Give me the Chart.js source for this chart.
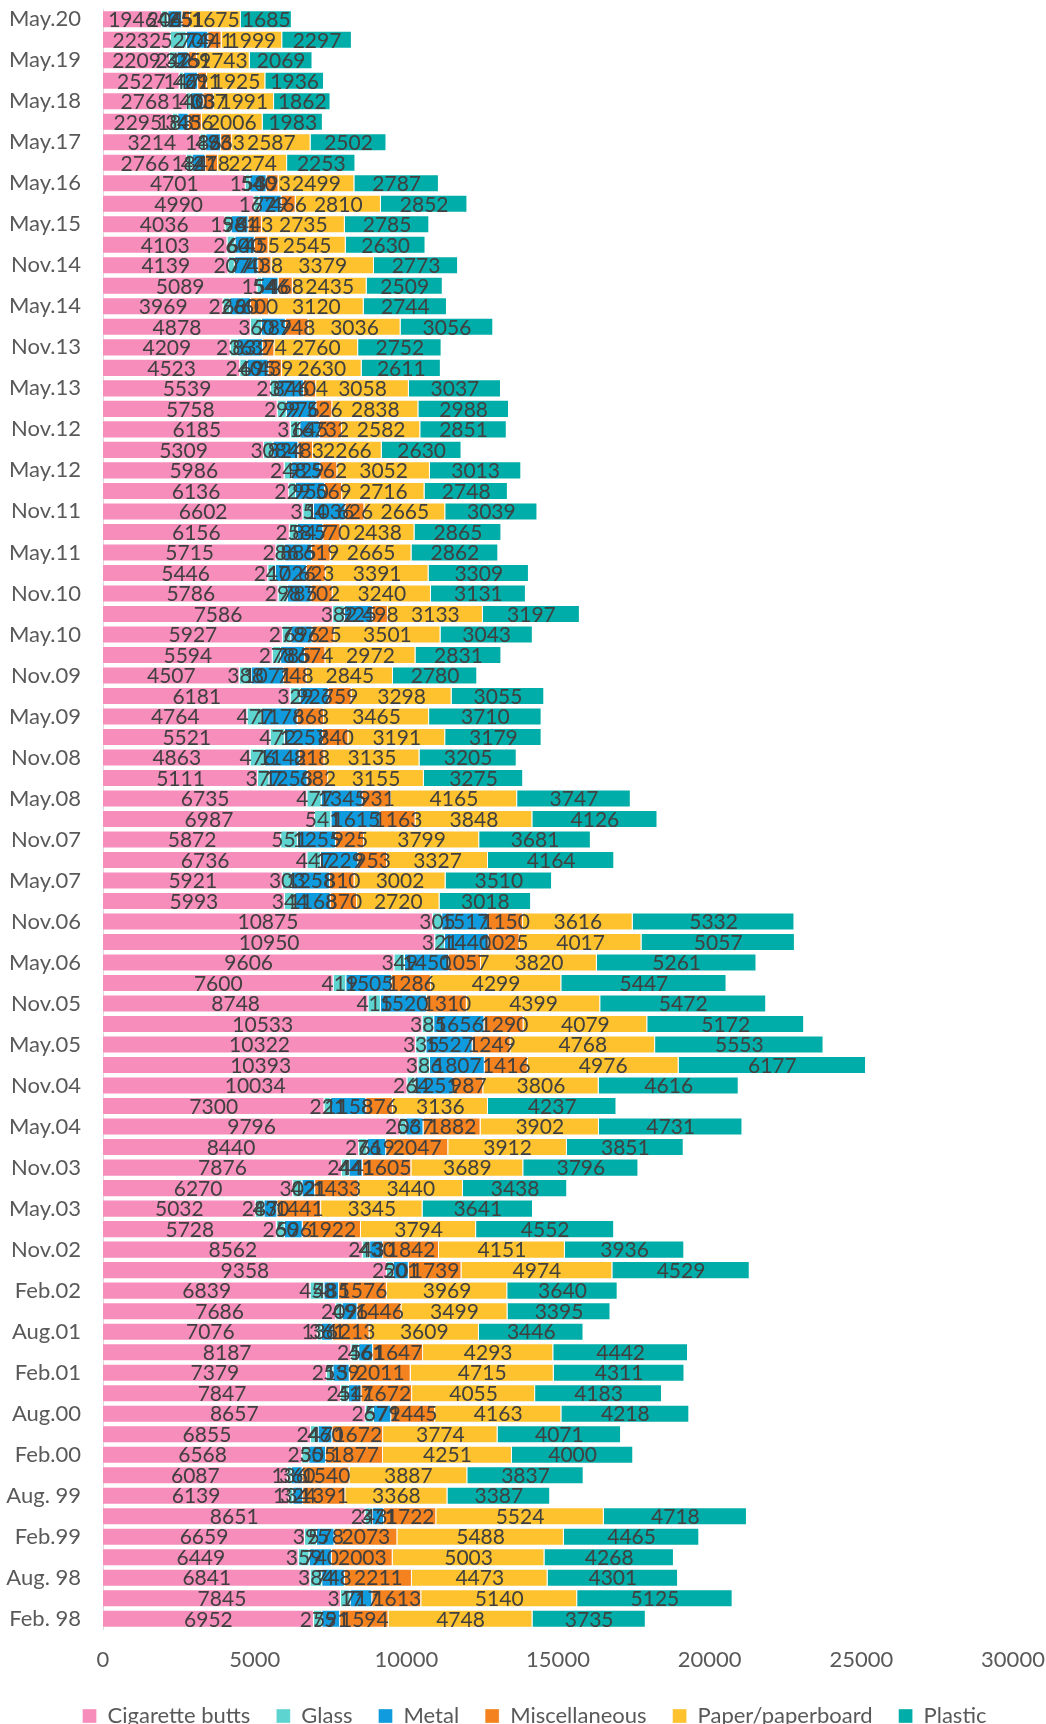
<!DOCTYPE html>
<html>
<head>
<meta charset="utf-8">
<script src="https://cdn.jsdelivr.net/npm/chart.js@4"></script>
<style>
  html, body { margin: 0; padding: 0; background: #fff; }
</style>
</head>
<body>
<canvas id="mycanvas1" width="1046" height="1724"></canvas>
<script>
// survey dates, top to bottom (only every other one is shown on the axis)
var dates = ["May.20","Nov.19","May.19","Nov.18","May.18","Nov.17","May.17","Nov.16","May.16","Nov.15",
  "May.15","Feb.15","Nov.14","Aug.14","May.14","Feb.14","Nov.13","Aug.13","May.13","Feb.13",
  "Nov.12","Aug.12","May.12","Feb.12","Nov.11","Aug.11","May.11","Feb.11","Nov.10","Aug.10",
  "May.10","Feb.10","Nov.09","Aug.09","May.09","Feb.09","Nov.08","Aug.08","May.08","Feb.08",
  "Nov.07","Aug.07","May.07","Feb.07","Nov.06","Aug.06","May.06","Feb.06","Nov.05","Aug.05",
  "May.05","Feb.05","Nov.04","Aug.04","May.04","Feb.04","Nov.03","Aug.03","May.03","Feb.03",
  "Nov.02","May.02","Feb.02","Nov.01","Aug.01","May.01","Feb.01","Nov.00","Aug.00","May.00",
  "Feb.00","Nov. 99","Aug. 99","May.99","Feb.99","Nov. 98","Aug. 98","May. 98","Feb. 98"];

var cigarette = [1946,2232,2209,2527,2768,2295,3214,2766,4701,4990,
  4036,4103,4139,5089,3969,4878,4209,4523,5539,5758,
  6185,5309,5986,6136,6602,6156,5715,5446,5786,7586,
  5927,5594,4507,6181,4764,5521,4863,5111,6735,6987,
  5872,6736,5921,5993,10875,10950,9606,7600,8748,10533,
  10322,10393,10034,7300,9796,8440,7876,6270,5032,5728,
  8562,9358,6839,7686,7076,8187,7379,7847,8657,6855,
  6568,6087,6139,8651,6659,6449,6841,7845,6952];
var glass = [204,527,242,147,140,183,186,184,154,167,
  198,260,207,154,226,360,236,240,237,299,
  316,308,248,229,354,258,286,247,298,382,
  278,278,388,329,477,472,476,377,477,541,
  551,447,303,344,305,321,349,419,415,385,
  335,386,264,221,203,276,244,302,287,260,
  243,220,458,209,136,256,215,254,267,247,
  230,136,134,243,395,359,384,317,275];
var metal = [465,709,375,461,403,345,493,427,540,729,
  561,640,770,546,680,789,832,695,846,976,
  645,824,929,950,1036,847,885,1026,785,925,
  696,785,1071,926,1176,1257,1142,1253,1345,1615,
  1255,1229,1258,1168,1517,1440,1450,1505,1520,1656,
  1527,1807,1251,1158,567,619,441,421,430,596,
  430,501,485,496,361,461,539,417,579,460,
  555,360,324,371,578,740,748,717,591];
var misc = [251,441,269,291,337,436,363,418,393,466,
  443,455,438,468,600,748,374,439,404,526,
  732,483,562,569,626,570,619,623,702,498,
  725,674,748,759,868,840,818,682,931,1163,
  925,953,810,870,1150,1025,1057,1286,1310,1290,
  1249,1416,987,876,1882,2047,1605,1433,1441,1922,
  1842,1739,1576,1446,1213,1647,2011,1672,1445,1672,
  1877,1540,1391,1722,2073,2003,2211,1613,1594];
var paper = [1675,1999,1743,1925,1991,2006,2587,2274,2499,2810,
  2735,2545,3379,2435,3120,3036,2760,2630,3058,2838,
  2582,2266,3052,2716,2665,2438,2665,3391,3240,3133,
  3501,2972,2845,3298,3465,3191,3135,3155,4165,3848,
  3799,3327,3002,2720,3616,4017,3820,4299,4399,4079,
  4768,4976,3806,3136,3902,3912,3689,3440,3345,3794,
  4151,4974,3969,3499,3609,4293,4715,4055,4163,3774,
  4251,3887,3368,5524,5488,5003,4473,5140,4748];
var plastic = [1685,2297,2069,1936,1862,1983,2502,2253,2787,2852,
  2785,2630,2773,2509,2744,3056,2752,2611,3037,2988,
  2851,2630,3013,2748,3039,2865,2862,3309,3131,3197,
  3043,2831,2780,3055,3710,3179,3205,3275,3747,4126,
  3681,4164,3510,3018,5332,5057,5261,5447,5472,5172,
  5553,6177,4616,4237,4731,3851,3796,3438,3641,4552,
  3936,4529,3640,3395,3446,4442,4311,4183,4218,4071,
  4000,3837,3387,4718,4465,4268,4301,5125,3735];

var seriesNames = ["Cigarette butts","Glass","Metal","Miscellaneous","Paper/paperboard","Plastic"];
var seriesColors = ["#F78DBB","#5DD4D0","#0F9BDD","#F3821F","#FEC22E","#00ADA8"];
var xTicks = [0,5000,10000,15000,20000,25000,30000];

var FONT = "Lato, 'Open Sans', sans-serif";

// draws the value of every segment in its middle
var valueLabels = {
  id: 'valueLabels',
  afterDatasetsDraw: function(chart) {
    var ctx = chart.ctx;
    ctx.save();
    ctx.font = "21px " + FONT;
    ctx.fillStyle = "#404040";
    ctx.textAlign = "center";
    ctx.textBaseline = "middle";
    chart.data.datasets.forEach(function(ds, i){
      chart.getDatasetMeta(i).data.forEach(function(bar, j){
        var p = bar.getProps(['x','base','y'], true);
        ctx.fillText(ds.data[j], (p.x + p.base) / 2, p.y + 1);
      });
    });
    ctx.restore();
  }
};

// nudge the legend a bit to the right, like the original
var legendShift = {
  id: 'legendShift',
  afterLayout: function(chart) {
    if (chart.legend) {
      chart.legend.left += 28;
      chart.legend.right += 28;
    }
  }
};

var allSeries = [cigarette, glass, metal, misc, paper, plastic];
var datasets = [];
for (var i = 0; i < allSeries.length; i++) {
  datasets.push({
    label: seriesNames[i],
    data: allSeries[i],
    backgroundColor: seriesColors[i],
    borderColor: "rgba(255,255,255,0.35)",
    borderWidth: 1,
    barPercentage: 1,
    categoryPercentage: 0.88
  });
}

var ctx = document.getElementById("mycanvas1");
new Chart(ctx, {
  type: "bar",
  data: { labels: dates, datasets: datasets },
  plugins: [valueLabels, legendShift],
  options: {
    responsive: false,
    animation: false,
    indexAxis: 'y',
    layout: { padding: { top: 9, right: 33, left: 0, bottom: -13 } },
    plugins: {
      tooltip: { enabled: false },
      legend: {
        position: 'bottom',
        labels: {
          boxWidth: 14, boxHeight: 14,
          padding: 26,
          color: "#595959",
          font: { family: FONT, size: 22 }
        }
      }
    },
    scales: {
      x: {
        stacked: true,
        min: 0, max: 30000,
        afterBuildTicks: function(scale){
          scale.ticks = xTicks.map(function(v){ return { value: v }; });
        },
        afterFit: function(scale){
          scale.height = 50;
          scale.paddingLeft = 0;
          scale.paddingRight = 0;
        },
        grid: { display: false, drawTicks: false },
        border: { display: false },
        ticks: {
          color: "#595959", padding: 18, font: { family: FONT, size: 22 },
          callback: function(v){ return String(v); }
        }
      },
      y: {
        stacked: true,
        afterFit: function(scale){
          scale.width = 103;
          scale.paddingTop = 0;
          scale.paddingBottom = 0;
        },
        grid: { display: false, drawTicks: false },
        border: { display: true, color: "#D9D9D9", width: 1 },
        ticks: {
          autoSkip: false,
          padding: 22,
          color: "#595959",
          font: { family: FONT, size: 22 },
          callback: function(v, idx){ return idx % 2 === 0 ? this.getLabelForValue(v) : ''; }
        }
      }
    }
  }
});
</script>
</body>
</html>
